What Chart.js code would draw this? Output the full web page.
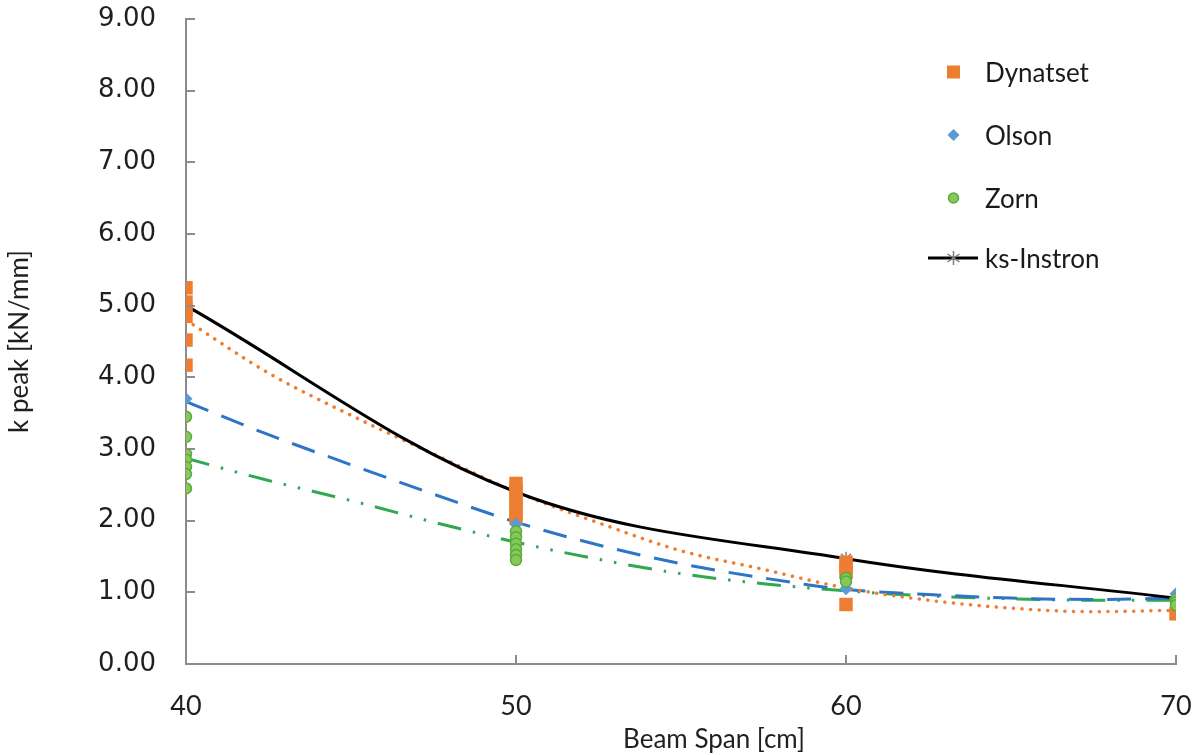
<!DOCTYPE html>
<html>
<head>
<meta charset="utf-8">
<script src="https://cdn.jsdelivr.net/npm/chart.js@4.4.1/dist/chart.umd.min.js"></script>
<style>
  html, body { margin: 0; padding: 0; background: #ffffff; }
  #wrap { position: relative; width: 1196px; height: 755px; overflow: hidden; }
  #legend { position: absolute; left: 925px; top: 0; font-family: Lato, "Open Sans", sans-serif; font-size: 26px; color: #1a1a1a; }
  .item { position: absolute; left: 0; height: 40px; display: flex; align-items: center; white-space: nowrap; }
  .item svg { width: 56px; height: 40px; }
  .item span { margin-left: 4px; }
</style>
</head>
<body>
<div id="wrap">
  <canvas id="c" width="1196" height="755"></canvas>
  <div id="legend"></div>
</div>
<script>
// ---- data ----
const spanTicks = [40, 50, 60, 70];
const yTickLabels = ["0.00","1.00","2.00","3.00","4.00","5.00","6.00","7.00","8.00","9.00"];
const xTitle = 'Beam Span [cm]';
const yTitle = 'k peak [kN/mm]';

const dynatsetX = [40, 40, 40, 40, 40, 40, 50, 50, 50, 50, 50, 50, 60, 60, 60, 60, 70];
const dynatsetY = [5.25, 5.05, 4.95, 4.85, 4.52, 4.17, 2.52, 2.42, 2.32, 2.22, 2.12, 2.04, 1.42, 1.35, 1.28, 0.83, 0.70];

const olsonX = [40, 50, 60, 70];
const olsonY = [3.70, 1.95, 1.05, 0.98];

const zornX = [40, 40, 40, 40, 40, 40, 40, 50, 50, 50, 50, 50, 50, 60, 60, 70, 70, 70];
const zornY = [3.45, 3.17, 2.93, 2.85, 2.75, 2.65, 2.45, 1.85, 1.77, 1.68, 1.60, 1.52, 1.45, 1.20, 1.15, 0.90, 0.86, 0.82];

const ksInstronX = [40, 50, 60, 70];
const ksInstronY = [5.00, 2.40, 1.47, 0.92];

const trendX = [40, 42.5, 45, 47.5, 50, 52.5, 55, 57.5, 60, 62.5, 65, 67.5, 70];
const dynatsetTrend = [4.80, 4.06, 3.47, 2.93, 2.40, 1.97, 1.58, 1.32, 1.06, 0.89, 0.78, 0.73, 0.75];
const olsonTrend    = [3.66, 3.20, 2.78, 2.37, 1.98, 1.66, 1.40, 1.20, 1.04, 0.97, 0.92, 0.90, 0.92];
const zornTrend     = [2.87, 2.56, 2.28, 1.98, 1.70, 1.46, 1.26, 1.12, 1.02, 0.95, 0.91, 0.89, 0.89];

const seriesNames = ["Dynatset", "Olson", "Zorn", "ks-Instron"];

// ---- helpers ----
const pts = (xs, ys) => xs.map((x, i) => ({ x: x, y: ys[i] }));

const ORANGE = '#ED7D31';
const BLUE = '#5B9BD5';
const BLUE_LINE = '#2E75C6';
const GREEN_FILL = '#86C95A';
const GREEN_EDGE = '#5CAA3C';
const GREEN_LINE = '#2FA84F';
const AXIS = '#8C8C8C';
const TEXT = '#1f1f1f';

const innerTicks = {
  id: 'innerTicks',
  afterDraw(chart) {
    const ctx = chart.ctx;
    const xs = chart.scales.x, ys = chart.scales.y;
    const a = chart.chartArea;
    ctx.save();
    ctx.strokeStyle = AXIS;
    ctx.lineWidth = 2;
    ctx.beginPath();
    ys.ticks.forEach(t => {
      const py = Math.round(ys.getPixelForValue(t.value));
      ctx.moveTo(a.left, py);
      ctx.lineTo(a.left + 9, py);
    });
    xs.ticks.forEach(t => {
      const px = Math.round(xs.getPixelForValue(t.value));
      ctx.moveTo(px, a.bottom);
      ctx.lineTo(px, a.bottom - 9);
    });
    ctx.stroke();
    // x axis title (offset to the right of the plot centre, as in the reference)
    ctx.fillStyle = TEXT;
    ctx.font = '26px Lato';
    ctx.textAlign = 'center';
    ctx.textBaseline = 'middle';
    ctx.fillText(xTitle, xs.getPixelForValue(56), 740);
    ctx.restore();
  }
};

const ctx = document.getElementById('c').getContext('2d');
new Chart(ctx, {
  type: 'scatter',
  data: {
    datasets: [
      {
        label: seriesNames[0], data: pts(dynatsetX, dynatsetY),
        pointStyle: 'rect', pointRadius: 9.5, pointHoverRadius: 9.5,
        backgroundColor: ORANGE, borderColor: ORANGE, borderWidth: 0,
        showLine: false, order: 2
      },
      {
        label: seriesNames[1], data: pts(olsonX, olsonY),
        pointStyle: 'rectRot', pointRadius: 6.5, pointHoverRadius: 6.5,
        backgroundColor: BLUE, borderColor: BLUE, borderWidth: 0,
        showLine: false, order: 1
      },
      {
        label: seriesNames[2], data: pts(zornX, zornY),
        pointStyle: 'circle', pointRadius: 5.5, pointHoverRadius: 5.5,
        backgroundColor: GREEN_FILL, borderColor: GREEN_EDGE, borderWidth: 1.5,
        showLine: false, order: 0
      },
      {
        label: seriesNames[3], data: pts(ksInstronX, ksInstronY),
        showLine: true, borderColor: '#000000', borderWidth: 3, tension: 0.35,
        pointStyle: 'star', pointRadius: 7, pointHoverRadius: 7,
        pointBorderColor: '#7F7F7F', pointBackgroundColor: '#7F7F7F', pointBorderWidth: 1.5,
        order: 3
      },
      {
        label: 'Dynatset trend', data: pts(trendX, dynatsetTrend),
        showLine: true, borderColor: ORANGE, borderWidth: 3.5,
        borderDash: [0.1, 8.5], borderCapStyle: 'round',
        cubicInterpolationMode: 'monotone', pointRadius: 0, order: 4
      },
      {
        label: 'Olson trend', data: pts(trendX, olsonTrend),
        showLine: true, borderColor: BLUE_LINE, borderWidth: 3,
        borderDash: [24, 14], cubicInterpolationMode: 'monotone', pointRadius: 0, order: 5
      },
      {
        label: 'Zorn trend', data: pts(trendX, zornTrend),
        showLine: true, borderColor: GREEN_LINE, borderWidth: 3,
        borderDash: [24, 12, 2.5, 12, 2.5, 12], cubicInterpolationMode: 'monotone', pointRadius: 0, order: 6
      }
    ]
  },
  options: {
    responsive: false,
    animation: false,
    devicePixelRatio: 1,
    layout: { padding: { top: 19, right: 20, left: 0, bottom: 0 } },
    plugins: { legend: { display: false }, tooltip: { enabled: false } },
    scales: {
      x: {
        type: 'linear', min: 40, max: 70,
        afterBuildTicks: (s) => { s.ticks = spanTicks.map(v => ({ value: v })); },
        afterFit: (s) => { s.height = 91; s.paddingLeft = 0; s.paddingRight = 0; },
        grid: { display: false },
        border: { display: true, color: AXIS, width: 2 },
        ticks: {
          font: { family: 'Lato', size: 27 }, color: TEXT, padding: 18,
          maxRotation: 0, callback: (v) => String(v)
        },
        title: { display: false }
      },
      y: {
        min: 0, max: 9,
        afterBuildTicks: (s) => { s.ticks = yTickLabels.map(l => ({ value: parseFloat(l) })); },
        afterFit: (s) => { s.width = 186; s.paddingTop = 0; s.paddingBottom = 0; },
        grid: { display: false },
        border: { display: true, color: AXIS, width: 2 },
        ticks: {
          font: { family: 'DejaVu Sans', size: 26 }, color: TEXT, padding: 22,
          callback: (v) => yTickLabels[Math.round(v)]
        },
        title: {
          display: true, text: yTitle,
          font: { family: 'Lato', size: 26 }, color: TEXT,
          padding: { top: 4, bottom: 0 }
        }
      }
    }
  },
  plugins: [innerTicks]
});

// ---- legend (HTML text) ----
const legendRows = [
  { name: seriesNames[0], y: 72, svg: '<rect x="22" y="13.5" width="13" height="13" fill="' + ORANGE + '"/>' },
  { name: seriesNames[1], y: 135, svg: '<polygon points="28.5,14 34.5,20 28.5,26 22.5,20" fill="' + BLUE + '"/>' },
  { name: seriesNames[2], y: 198, svg: '<circle cx="28.5" cy="20" r="5" fill="' + GREEN_FILL + '" stroke="' + GREEN_EDGE + '" stroke-width="1.5"/>' },
  { name: seriesNames[3], y: 258, svg: '<line x1="3" y1="20" x2="53" y2="20" stroke="#000" stroke-width="3"/>' +
      '<g stroke="#7F7F7F" stroke-width="1.5"><line x1="28.5" y1="13" x2="28.5" y2="27"/><line x1="22.5" y1="16" x2="34.5" y2="24"/><line x1="22.5" y1="24" x2="34.5" y2="16"/></g>' }
];
const lg = document.getElementById('legend');
legendRows.forEach(r => {
  const d = document.createElement('div');
  d.className = 'item';
  d.style.top = (r.y - 20) + 'px';
  d.innerHTML = '<svg viewBox="0 0 56 40">' + r.svg + '</svg><span>' + r.name + '</span>';
  lg.appendChild(d);
});
</script>
</body>
</html>
